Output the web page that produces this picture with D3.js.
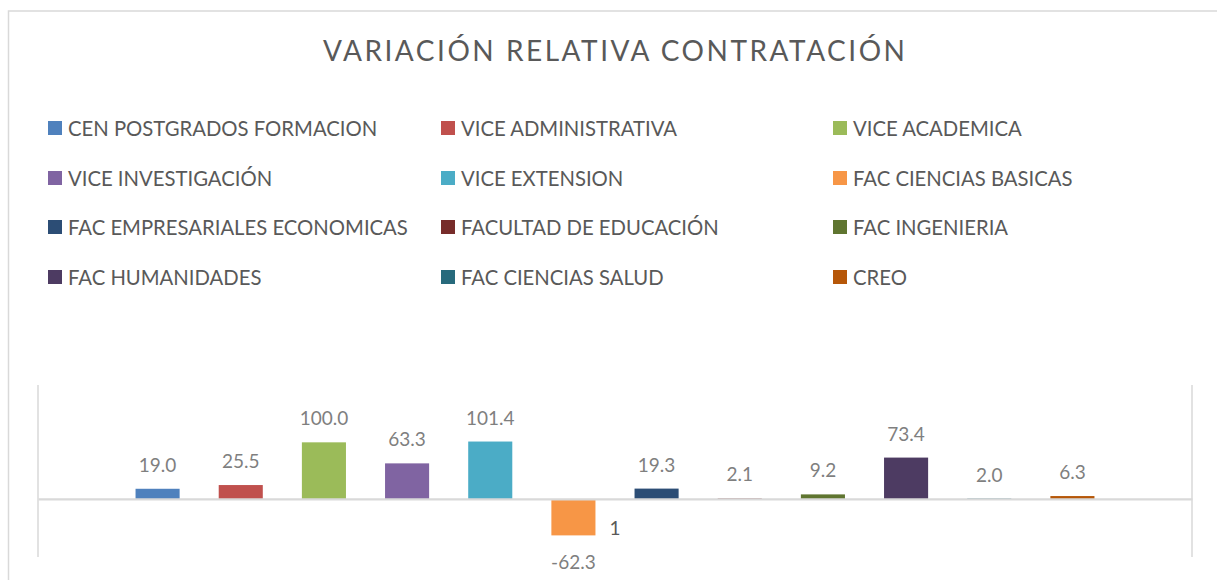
<!DOCTYPE html>
<html>
<head>
<meta charset="utf-8">
<script src="https://cdn.jsdelivr.net/npm/d3@7"></script>
<style>
  html, body { margin: 0; padding: 0; background: #fff; }
  svg { display: block; }
</style>
</head>
<body>
<svg id="chart" width="1217" height="580"></svg>
<script>
const title = "VARIACIÓN RELATIVA CONTRATACIÓN";
const categories = ["1"];
const seriesNames = [
  "CEN POSTGRADOS FORMACION", "VICE ADMINISTRATIVA", "VICE ACADEMICA",
  "VICE INVESTIGACIÓN", "VICE EXTENSION", "FAC CIENCIAS BASICAS",
  "FAC EMPRESARIALES ECONOMICAS", "FACULTAD DE EDUCACIÓN", "FAC INGENIERIA",
  "FAC HUMANIDADES", "FAC CIENCIAS SALUD", "CREO"
];
const seriesValues = [19.0, 25.5, 100.0, 63.3, 101.4, -62.3, 19.3, 2.1, 9.2, 73.4, 2.0, 6.3];
const seriesColors = [
  "#4F81BD", "#C0504D", "#9BBB59", "#8064A2", "#4BACC6", "#F79646",
  "#2C4D75", "#772C2A", "#5F7530", "#4D3B62", "#276A7C", "#B65708"
];
const yDomain = [-100, 200];

const svg = d3.select("#chart");
const FONT = "Lato, 'Open Sans', sans-serif";

// outer chart border
svg.append("rect")
  .attr("x", 8.5).attr("y", 11).attr("width", 1230).attr("height", 600)
  .attr("fill", "none").attr("stroke", "#d9d9d9").attr("stroke-width", 1.5);

// title with letter spacing fitted to target width
const titleText = svg.append("text")
  .attr("x", 323).attr("y", 61)
  .attr("font-family", FONT).attr("font-size", 28)
  .attr("fill", "#595959")
  .text(title);
const baseW = titleText.node().getComputedTextLength();
const targetW = 582;
const ls = (targetW - baseW) / (title.length - 1);
titleText.attr("letter-spacing", ls);

// legend
const legendCols = [48, 441, 833];
const legendRows = [128, 178, 227, 277];
const legend = svg.append("g");
seriesNames.forEach((name, i) => {
  const cx = legendCols[i % 3];
  const cy = legendRows[Math.floor(i / 3)];
  legend.append("rect")
    .attr("x", cx).attr("y", cy - 7).attr("width", 14).attr("height", 14)
    .attr("fill", seriesColors[i]);
  legend.append("text")
    .attr("x", cx + 20).attr("y", cy + 7.5)
    .attr("font-family", FONT).attr("font-size", 20.3)
    .attr("fill", "#595959")
    .text(name);
});

// plot area
const plotLeft = 38, plotRight = 1192, plotTop = 385, plotBottom = 557;
const y = d3.scaleLinear().domain(yDomain).range([plotBottom, plotTop]);
const xCat = d3.scaleBand().domain(categories).range([plotLeft, plotRight]).padding(0);
const groupMargin = 78;
const x = d3.scaleBand()
  .domain(seriesNames)
  .range([xCat(categories[0]) + groupMargin, xCat(categories[0]) + xCat.bandwidth() - groupMargin])
  .paddingInner(0.47).paddingOuter(0.235);

const data = seriesNames.map((n, i) => ({ name: n, value: seriesValues[i], color: seriesColors[i] }));

svg.append("g").selectAll("rect").data(data).join("rect")
  .attr("x", d => x(d.name))
  .attr("width", x.bandwidth())
  .attr("y", d => y(Math.max(0, d.value)))
  .attr("height", d => Math.abs(y(d.value) - y(0)))
  .attr("fill", d => d.color);

// axis lines
const axisColor = "#d9d9d9";
svg.append("line").attr("x1", plotLeft).attr("x2", plotLeft).attr("y1", plotTop).attr("y2", plotBottom)
  .attr("stroke", axisColor).attr("stroke-width", 1.5);
svg.append("line").attr("x1", plotRight).attr("x2", plotRight).attr("y1", plotTop).attr("y2", plotBottom)
  .attr("stroke", axisColor).attr("stroke-width", 1.5);
const xAxis = d3.axisBottom(xCat).tickSize(0).tickPadding(0);
const axisG = svg.append("g").attr("transform", `translate(0,${y(0) - 0.8})`).call(xAxis);
axisG.select(".domain").attr("stroke", axisColor).attr("stroke-width", 2.2);
axisG.selectAll(".tick text")
  .attr("font-family", FONT).attr("font-size", 19).attr("fill", "#595959")
  .attr("dy", null).attr("y", 35.8);

// data labels
svg.append("g").selectAll("text").data(data).join("text")
  .attr("x", d => x(d.name) + x.bandwidth() / 2)
  .attr("y", d => d.value >= 0 ? y(d.value) - 17 : y(d.value) + 33.5)
  .attr("text-anchor", "middle")
  .attr("font-family", FONT).attr("font-size", 19)
  .attr("fill", "#7f7f7f")
  .text(d => d.value.toFixed(1));
</script>
</body>
</html>
